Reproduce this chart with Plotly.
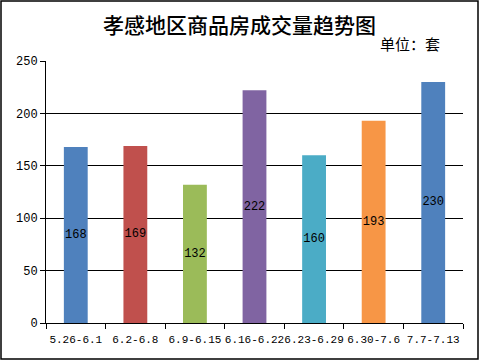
import plotly.graph_objects as go

categories = ["5.26-6.1", "6.2-6.8", "6.9-6.15", "6.16-6.22", "6.23-6.29", "6.30-7.6", "7.7-7.13"]
values = [168, 169, 132, 222, 160, 193, 230]
colors = ["#4F81BD", "#C0504D", "#9BBB59", "#8064A2", "#4BACC6", "#F79646", "#4F81BD"]

W, H = 480, 361
ml, mr, mt, mb = 46, 17, 61, 38
pw, ph = W - ml - mr, H - mt - mb

font = "'Liberation Mono', 'DejaVu Sans Mono', monospace"

fig = go.Figure(go.Bar(
    x=categories, y=values, marker_color=colors, marker_line_width=0,
    text=[str(v) for v in values], textposition="inside", insidetextanchor="middle",
    constraintext="none", cliponaxis=False,
    textfont=dict(color="black", size=12, family=font), textangle=0,
))

fig.update_layout(
    width=W, height=H, margin=dict(l=ml, r=mr, t=mt, b=mb, autoexpand=False),
    paper_bgcolor="white", plot_bgcolor="white", bargap=0.6, showlegend=False,
    uniformtext=dict(minsize=12, mode="show"),
    font=dict(family=font, size=12, color="black"),
    xaxis=dict(type="category", showline=True, linecolor="black", linewidth=1,
               ticks="outside", tickson="boundaries", ticklen=5, tickcolor="black",
               tickangle=0, automargin=False, ticklabelstandoff=6,
               tickfont=dict(size=11, family=font), showgrid=False),
    yaxis=dict(range=[0, 250], dtick=50, showline=True, linecolor="black", linewidth=1,
               ticks="outside", ticklen=5, tickcolor="black", gridcolor="black", gridwidth=1,
               automargin=False,
               tickfont=dict(size=12, family=font), zeroline=False),
)

fig.add_annotation(text="孝感地区商品房成交量趋势图", xref="paper", yref="paper",
                   x=(239 - ml) / pw, y=1 + (mt - 24) / ph, showarrow=False,
                   xanchor="center", yanchor="middle",
                   font=dict(size=21, family="'Noto Sans CJK SC', sans-serif", color="black", weight=500))
fig.add_annotation(text="单位：套", xref="paper", yref="paper",
                   x=(410 - ml) / pw, y=1 + (mt - 44) / ph, showarrow=False,
                   xanchor="center", yanchor="middle",
                   font=dict(size=15, family="'Noto Sans CJK SC', sans-serif", color="black"))

fig.add_shape(type="rect", xref="paper", yref="paper",
              x0=(1 - ml) / pw, x1=(W - 2 - ml) / pw,
              y0=-(mb - 2) / ph, y1=1 + (mt - 1) / ph,
              line=dict(color="black", width=1.5), fillcolor="rgba(0,0,0,0)")

fig.write_html("out.html")
